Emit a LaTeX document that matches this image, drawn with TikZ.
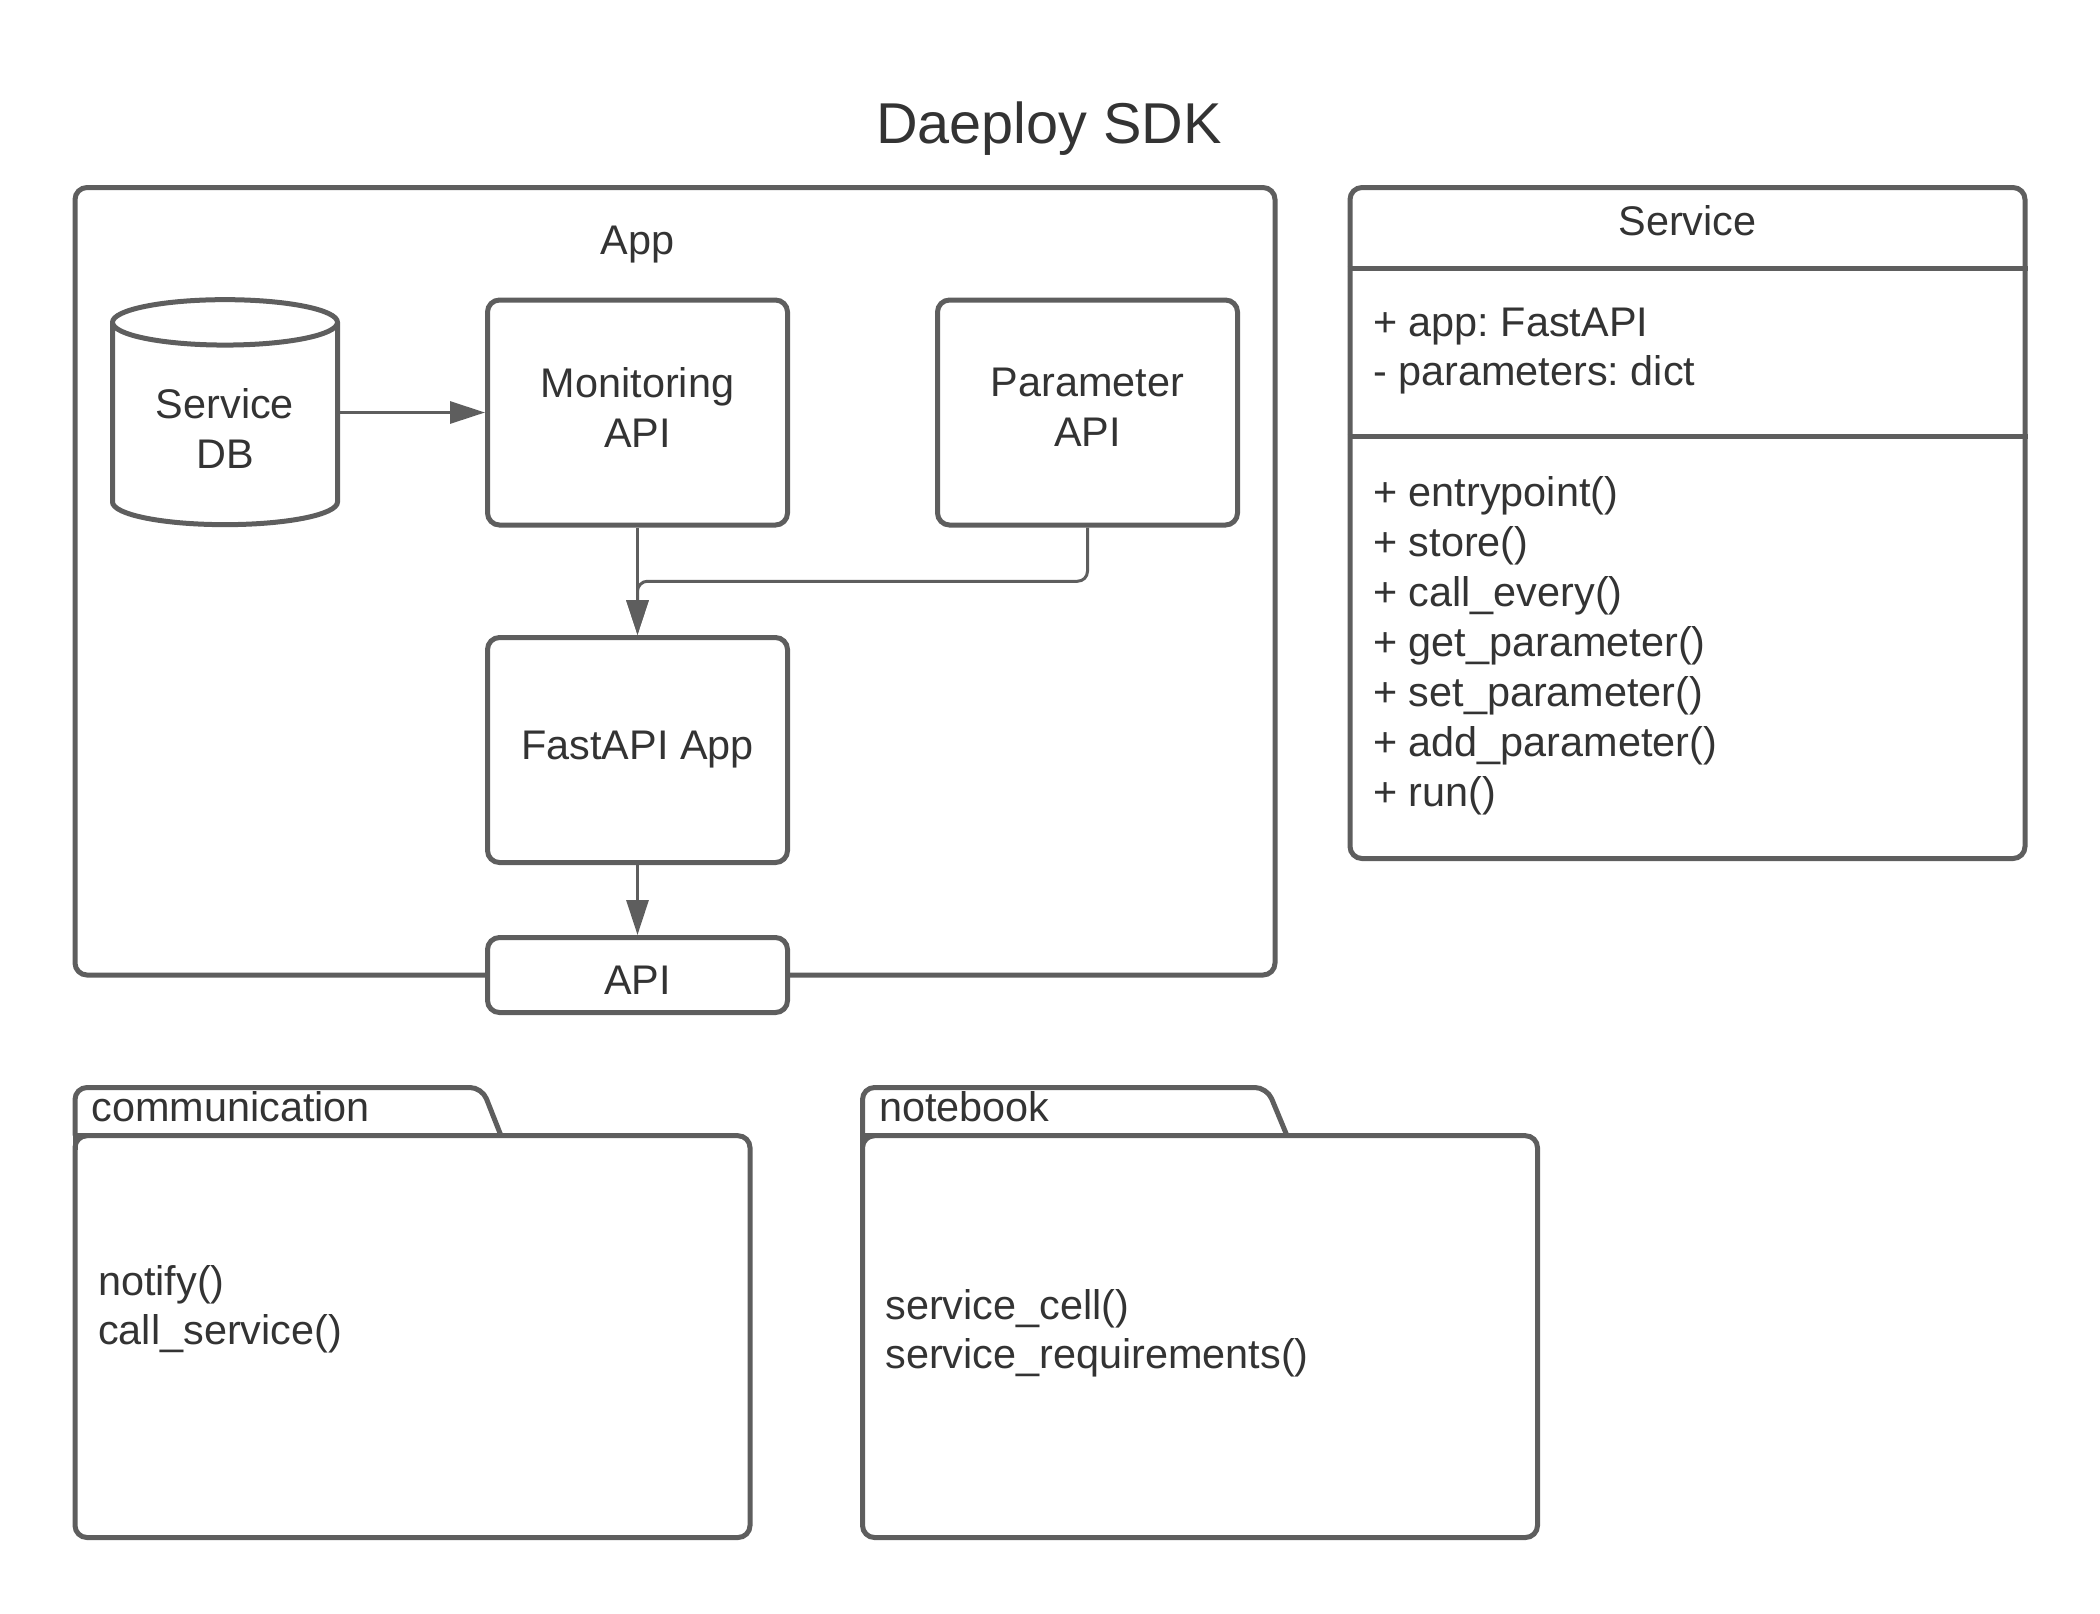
\documentclass[tikz,border=0pt]{standalone}
\usepackage{fontspec}
\setmainfont{Liberation Sans}
\frenchspacing
\usepackage{tikz}
\usetikzlibrary{arrows.meta, shapes.geometric, calc}
\definecolor{linegray}{RGB}{94, 94, 94}
\definecolor{textgray}{RGB}{51, 51, 51}
\newcommand{\bodyfont}{\fontsize{20.7}{24.8}\selectfont}
\newcommand{\titlefont}{\fontsize{28.8}{34.6}\selectfont}

\begin{document}
\begin{tikzpicture}[x=0.5pt, y=-0.5pt,
    box/.style={draw=linegray, line width=2.5pt, rounded corners=6pt, text=textgray,
        font=\bodyfont, align=center, minimum width=150pt, minimum height=112.5pt},
    fold/.style={draw=linegray, line width=2.5pt},
    txt/.style={text=textgray, font=\bodyfont, inner sep=0pt, text height=1.35em, text depth=0pt},
    flow/.style={draw=linegray, line width=1.5pt, rounded corners=5pt,
        -{Triangle[length=17.5pt, width=11pt]}}]
        \useasboundingbox (0,0) rectangle (2100,1613);

        % 标题
        \node[text=textgray, font=\titlefont] (title) at (1049,129) {Daeploy SDK};

        % App 外框
        \node[box, minimum width=600pt, minimum height=393.75pt] (app) at (675,581.25) {};
        \node[txt] (applabel) at (637.5,241) {App};

        % 数据库和各个模块
        \node[cylinder, shape border rotate=90, aspect=0.3, draw=linegray, line width=2.5pt,
            text=textgray, font=\bodyfont, align=center,
            minimum width=112.5pt, minimum height=112.5pt] (db) at (225,428.6) {Service\\DB};
        \node[box, text depth=5pt] (mon) at (637.5,412.5) {Monitoring\\API};
        \node[box, text depth=5pt] (par) at (1087.5,412.5) {Parameter\\API};
        \node[box] (fast) at (637.5,750) {FastAPI App};
        \node[box, fill=white, minimum height=37.5pt, text height=19.8pt] (api) at (637.5,975) {API};

        % 连线
        \draw[flow] (db.east |- mon.west) -- (mon.west);
        \draw[flow] (mon) -- (fast);
        \draw[flow] (par.south) |- ($(mon.south)!0.5!(fast.north)$) -- (fast.north);
        \draw[flow] (fast) -- (api);

        % Service 类
        \node[box, minimum width=337.5pt, minimum height=335.5pt] (svc) at (1687.5,523) {};
        \coordinate (div1) at (0,268);
        \coordinate (div2) at (0,436.6);
        \draw[fold] (svc.west |- div1) -- (svc.east |- div1);
        \draw[fold] (svc.west |- div2) -- (svc.east |- div2);
        \node[txt] (svcname) at (1687.5,222) {Service};
        \node[txt, anchor=west] (attr1) at (1372.8,322.8) {+ app: FastAPI};
        \node[txt, anchor=west] (attr2) at (1372.8,372.3) {- parameters: dict};
        \foreach \i/\m in {0/entrypoint(), 1/store(), 2/call\_every(), 3/get\_parameter(),
                           4/set\_parameter(), 5/add\_parameter(), 6/run()}
            \node[txt, anchor=west] (meth\i) at (1372.8, 492.9+49.95*\i) {+ \m};

        % 文件夹 communication
        \node[box, outer sep=0pt, minimum width=337.5pt, minimum height=200.9pt] (comm) at (412.5,1336.6) {};
        \draw[fold] ($(comm.north west)+(0,14)$) |- ($(comm.north west)+(14,0)$);
        \draw[fold, rounded corners=6pt]
            (comm.north west) -- ++(0,-48.2) -- ++(407,0) -- ++(19,48.2);
        \node[txt, anchor=west] (commname) at (91,1107.6) {communication};
        \node[txt, anchor=west] (notify) at (97.8,1281.7) {notify()};
        \node[txt, anchor=west] (callsvc) at (97.8,1331) {call\_service()};

        % 文件夹 notebook
        \node[box, outer sep=0pt, minimum width=337.5pt, minimum height=200.9pt] (nb) at (1200,1336.6) {};
        \draw[fold] ($(nb.north west)+(0,14)$) |- ($(nb.north west)+(14,0)$);
        \draw[fold, rounded corners=6pt]
            (nb.north west) -- ++(0,-48.2) -- ++(404.5,0) -- ++(20,48.2);
        \node[txt, anchor=west] (nbname) at (878.6,1107.6) {notebook};
        \node[txt, anchor=west] (cell) at (885,1305.8) {service\_cell()};
        \node[txt, anchor=west] (reqs) at (885,1355.4) {service\_requirements()};
    \end{tikzpicture}
\end{document}
